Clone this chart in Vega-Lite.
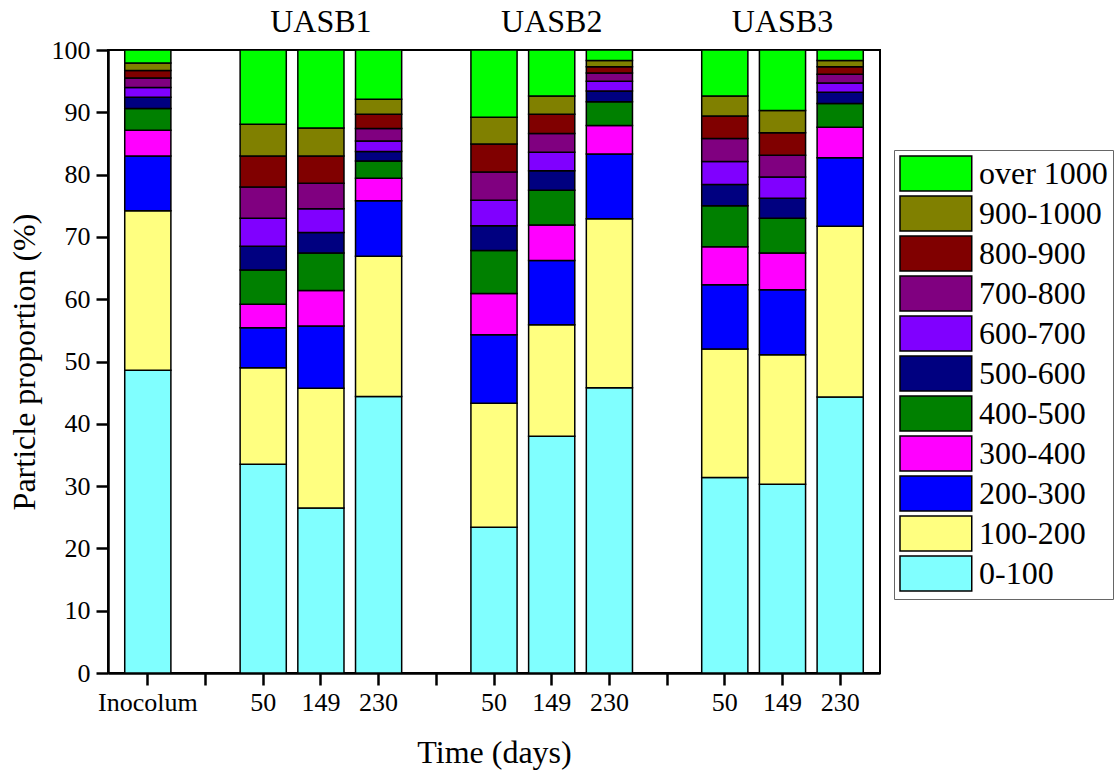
{
  "$schema": "https://vega.github.io/schema/vega-lite/v6.json",
  "autosize": "none",
  "width": 772,
  "height": 623,
  "padding": {"left": 108, "top": 50, "right": 238, "bottom": 98},
  "background": "white",
  "config": {
    "view": {"stroke": "black", "strokeWidth": 2},
    "font": "Times New Roman, Liberation Serif, serif"
  },
  "datasets": {
    "bars": [
      {"bar":"Inocolum","size":"0-100","p":48.6},{"bar":"Inocolum","size":"100-200","p":25.6},{"bar":"Inocolum","size":"200-300","p":8.8},{"bar":"Inocolum","size":"300-400","p":4.1},{"bar":"Inocolum","size":"400-500","p":3.5},{"bar":"Inocolum","size":"500-600","p":1.8},{"bar":"Inocolum","size":"600-700","p":1.6},{"bar":"Inocolum","size":"700-800","p":1.5},{"bar":"Inocolum","size":"800-900","p":1.2},{"bar":"Inocolum","size":"900-1000","p":1.2},{"bar":"Inocolum","size":"over 1000","p":2.1},
      {"bar":"U1-50","size":"0-100","p":33.5},{"bar":"U1-50","size":"100-200","p":15.5},{"bar":"U1-50","size":"200-300","p":6.4},{"bar":"U1-50","size":"300-400","p":3.8},{"bar":"U1-50","size":"400-500","p":5.5},{"bar":"U1-50","size":"500-600","p":3.8},{"bar":"U1-50","size":"600-700","p":4.5},{"bar":"U1-50","size":"700-800","p":5.0},{"bar":"U1-50","size":"800-900","p":5.0},{"bar":"U1-50","size":"900-1000","p":5.1},{"bar":"U1-50","size":"over 1000","p":11.9},
      {"bar":"U1-149","size":"0-100","p":26.5},{"bar":"U1-149","size":"100-200","p":19.2},{"bar":"U1-149","size":"200-300","p":10.0},{"bar":"U1-149","size":"300-400","p":5.7},{"bar":"U1-149","size":"400-500","p":6.0},{"bar":"U1-149","size":"500-600","p":3.3},{"bar":"U1-149","size":"600-700","p":3.8},{"bar":"U1-149","size":"700-800","p":4.1},{"bar":"U1-149","size":"800-900","p":4.4},{"bar":"U1-149","size":"900-1000","p":4.5},{"bar":"U1-149","size":"over 1000","p":12.5},
      {"bar":"U1-230","size":"0-100","p":44.4},{"bar":"U1-230","size":"100-200","p":22.5},{"bar":"U1-230","size":"200-300","p":8.9},{"bar":"U1-230","size":"300-400","p":3.6},{"bar":"U1-230","size":"400-500","p":2.8},{"bar":"U1-230","size":"500-600","p":1.5},{"bar":"U1-230","size":"600-700","p":1.7},{"bar":"U1-230","size":"700-800","p":2.0},{"bar":"U1-230","size":"800-900","p":2.3},{"bar":"U1-230","size":"900-1000","p":2.4},{"bar":"U1-230","size":"over 1000","p":7.9},
      {"bar":"U2-50","size":"0-100","p":23.4},{"bar":"U2-50","size":"100-200","p":19.9},{"bar":"U2-50","size":"200-300","p":11.0},{"bar":"U2-50","size":"300-400","p":6.6},{"bar":"U2-50","size":"400-500","p":6.9},{"bar":"U2-50","size":"500-600","p":4.0},{"bar":"U2-50","size":"600-700","p":4.1},{"bar":"U2-50","size":"700-800","p":4.5},{"bar":"U2-50","size":"800-900","p":4.5},{"bar":"U2-50","size":"900-1000","p":4.3},{"bar":"U2-50","size":"over 1000","p":10.8},
      {"bar":"U2-149","size":"0-100","p":38.0},{"bar":"U2-149","size":"100-200","p":17.9},{"bar":"U2-149","size":"200-300","p":10.3},{"bar":"U2-149","size":"300-400","p":5.7},{"bar":"U2-149","size":"400-500","p":5.6},{"bar":"U2-149","size":"500-600","p":3.1},{"bar":"U2-149","size":"600-700","p":3.0},{"bar":"U2-149","size":"700-800","p":3.0},{"bar":"U2-149","size":"800-900","p":3.1},{"bar":"U2-149","size":"900-1000","p":2.9},{"bar":"U2-149","size":"over 1000","p":7.4},
      {"bar":"U2-230","size":"0-100","p":45.8},{"bar":"U2-230","size":"100-200","p":27.1},{"bar":"U2-230","size":"200-300","p":10.4},{"bar":"U2-230","size":"300-400","p":4.6},{"bar":"U2-230","size":"400-500","p":3.8},{"bar":"U2-230","size":"500-600","p":1.7},{"bar":"U2-230","size":"600-700","p":1.6},{"bar":"U2-230","size":"700-800","p":1.3},{"bar":"U2-230","size":"800-900","p":1.0},{"bar":"U2-230","size":"900-1000","p":1.0},{"bar":"U2-230","size":"over 1000","p":1.7},
      {"bar":"U3-50","size":"0-100","p":31.4},{"bar":"U3-50","size":"100-200","p":20.6},{"bar":"U3-50","size":"200-300","p":10.3},{"bar":"U3-50","size":"300-400","p":6.1},{"bar":"U3-50","size":"400-500","p":6.6},{"bar":"U3-50","size":"500-600","p":3.4},{"bar":"U3-50","size":"600-700","p":3.7},{"bar":"U3-50","size":"700-800","p":3.7},{"bar":"U3-50","size":"800-900","p":3.6},{"bar":"U3-50","size":"900-1000","p":3.2},{"bar":"U3-50","size":"over 1000","p":7.4},
      {"bar":"U3-149","size":"0-100","p":30.3},{"bar":"U3-149","size":"100-200","p":20.8},{"bar":"U3-149","size":"200-300","p":10.4},{"bar":"U3-149","size":"300-400","p":5.9},{"bar":"U3-149","size":"400-500","p":5.6},{"bar":"U3-149","size":"500-600","p":3.2},{"bar":"U3-149","size":"600-700","p":3.4},{"bar":"U3-149","size":"700-800","p":3.5},{"bar":"U3-149","size":"800-900","p":3.6},{"bar":"U3-149","size":"900-1000","p":3.6},{"bar":"U3-149","size":"over 1000","p":9.7},
      {"bar":"U3-230","size":"0-100","p":44.3},{"bar":"U3-230","size":"100-200","p":27.4},{"bar":"U3-230","size":"200-300","p":11.0},{"bar":"U3-230","size":"300-400","p":4.9},{"bar":"U3-230","size":"400-500","p":3.8},{"bar":"U3-230","size":"500-600","p":1.8},{"bar":"U3-230","size":"600-700","p":1.5},{"bar":"U3-230","size":"700-800","p":1.4},{"bar":"U3-230","size":"800-900","p":1.2},{"bar":"U3-230","size":"900-1000","p":1.0},{"bar":"U3-230","size":"over 1000","p":1.7}
    ],
    "groups": [
      {"bar":"U1-149","label":"UASB1"},
      {"bar":"U2-149","label":"UASB2"},
      {"bar":"U3-149","label":"UASB3"}
    ]
  },
  "layer": [
    {
      "data": {"name": "bars"},
      "mark": {"type": "bar", "stroke": "black", "strokeWidth": 1.5},
      "encoding": {
        "x": {
          "field": "bar", "type": "nominal",
          "scale": {
            "domain": ["Inocolum","g1","U1-50","U1-149","U1-230","g2","U2-50","U2-149","U2-230","g3","U3-50","U3-149","U3-230"],
            "paddingInner": 0.2, "paddingOuter": 0.29
          },
          "axis": {
            "title": "Time (days)",
            "titleFont": "Times New Roman, Liberation Serif, serif", "titleFontSize": 32, "titleFontWeight": "normal", "titleColor": "black", "titlePadding": 22,
            "labelFont": "Times New Roman, Liberation Serif, serif", "labelFontSize": 26, "labelColor": "black", "labelAngle": 0, "labelPadding": 4,
            "labelExpr": "datum.value == 'Inocolum' ? 'Inocolum' : (indexof(datum.value, '-') > 0 ? split(datum.value, '-')[1] : '')",
            "tickSize": 12, "tickWidth": 2.5, "tickColor": "black",
            "domainColor": "black", "domainWidth": 2.5, "grid": false
          }
        },
        "y": {
          "field": "p", "type": "quantitative", "stack": "zero",
          "scale": {"domain": [0, 100], "nice": false},
          "axis": {
            "title": "Particle proportion (%)",
            "titleFont": "Times New Roman, Liberation Serif, serif", "titleFontSize": 32, "titleFontWeight": "normal", "titleColor": "black", "titlePadding": 10,
            "labelFont": "Times New Roman, Liberation Serif, serif", "labelFontSize": 26, "labelColor": "black", "labelPadding": 6,
            "values": [0,10,20,30,40,50,60,70,80,90,100],
            "tickSize": 12, "tickWidth": 2.5, "tickColor": "black",
            "domainColor": "black", "domainWidth": 2.5, "grid": false
          }
        },
        "color": {
          "field": "size", "type": "nominal",
          "scale": {
            "domain": ["over 1000","900-1000","800-900","700-800","600-700","500-600","400-500","300-400","200-300","100-200","0-100"],
            "range": ["#00FF00","#808000","#800000","#800080","#8000FF","#000080","#008000","#FF00FF","#0000FF","#FFFF80","#80FFFF"]
          },
          "legend": {
            "title": null,
            "orient": "none", "legendX": 786, "legendY": 100,
            "strokeColor": "#666666", "padding": 5, "fillColor": "white",
            "symbolType": "M-1,-1H3.1V1H-1Z", "symbolSize": 1225,
            "symbolStrokeColor": "black", "symbolStrokeWidth": 1.5, "symbolOpacity": 1,
            "labelFont": "Times New Roman, Liberation Serif, serif", "labelFontSize": 32, "labelColor": "black", "labelOffset": 43, "labelLimit": 300, "labelBaseline": "middle",
            "rowPadding": -1
          }
        },
        "order": {"field": "size", "sort": "ascending"}
      }
    },
    {
      "data": {"name": "groups"},
      "mark": {"type": "text", "font": "Times New Roman, Liberation Serif, serif", "fontSize": 32, "color": "black", "baseline": "alphabetic", "align": "center", "dy": -18},
      "encoding": {
        "x": {"field": "bar", "type": "nominal"},
        "y": {"datum": 100},
        "text": {"field": "label"}
      }
    }
  ]
}
